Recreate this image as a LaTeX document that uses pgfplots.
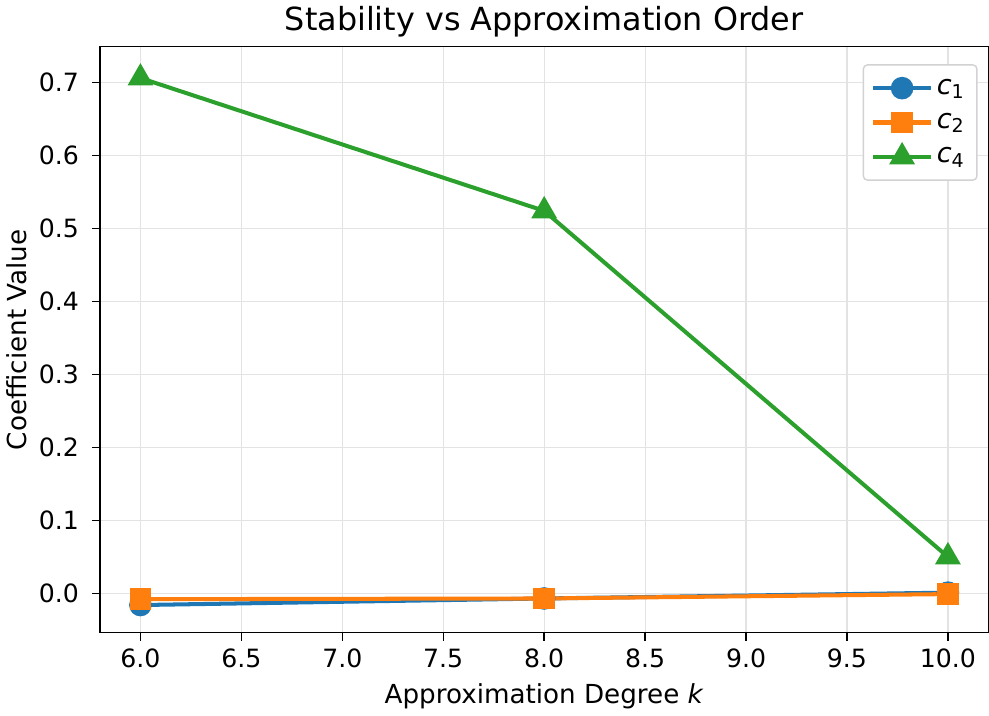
\documentclass[border=0pt]{standalone}
\usepackage{pgfplots}
\pgfplotsset{compat=1.18}
\usepackage{fontspec}
\setmainfont{DejaVu Sans}
\definecolor{cA}{HTML}{1F77B4}
\definecolor{cB}{HTML}{FF7F0E}
\definecolor{cC}{HTML}{2CA02C}
\begin{document}
\begin{tikzpicture}
\begin{axis}[
    scale only axis,
    width=441pt, height=291pt,
    xmin=5.8, xmax=10.2,
    ymin=-0.054, ymax=0.749,
    xtick={6,6.5,...,10},
    ytick={0,0.1,...,0.7},
    xticklabel style={yshift=-0.5pt, /pgf/number format/fixed, /pgf/number format/fixed zerofill, /pgf/number format/precision=1},
    yticklabel style={xshift=-3pt, /pgf/number format/fixed, /pgf/number format/fixed zerofill, /pgf/number format/precision=1},
    /pgf/number format/assume math mode=true,
    tick label style={font=\fontsize{12.5}{14}\selectfont},
    label style={font=\fontsize{13}{15}\selectfont},
    title style={font=\fontsize{15.8}{18}\selectfont, yshift=-5pt},
    title={Stability vs Approximation Order},
    xlabel={Approximation Degree \textit{k}},
    ylabel={Coefficient Value},
    xlabel style={yshift=-1pt},
    ylabel style={yshift=-1pt},
    grid=major,
    grid style={gray!22, line width=0.6pt},
    axis line style={line width=0.7pt},
    tick align=outside,
    tick pos=left,
    major tick length=4pt,
    tick style={black, line width=0.7pt},
    legend cell align=left,
    legend style={font=\fontsize{13.5}{16}\selectfont, draw=gray!35, rounded corners=2pt, line width=0.7pt,
        inner xsep=4pt, inner ysep=5pt, row sep=4pt, at={(0.988,0.97)}, anchor=north east},
    legend image code/.code={
        \draw[mark repeat=2,mark phase=2,#1] plot coordinates {(0cm,0cm) (0.5cm,0cm) (1.0cm,0cm)};
    },
]
\addplot[cA, line width=2pt, mark=*, mark size=4.6pt, mark options={solid}] coordinates {
    (6, -0.016) (8, -0.007) (10, 0.001)
};
\addlegendentry{\textit{c}\textsubscript{1}}
\addplot[cB, line width=2pt, mark=square*, mark size=4.4pt, mark options={solid}] coordinates {
    (6, -0.008) (8, -0.007) (10, -0.001)
};
\addlegendentry{\textit{c}\textsubscript{2}}
\addplot[cC, line width=2pt, mark=triangle*, mark size=5.4pt, mark options={solid}] coordinates {
    (6, 0.706) (8, 0.524) (10, 0.050)
};
\addlegendentry{\textit{c}\textsubscript{4}}
\end{axis}
\end{tikzpicture}
\end{document}
